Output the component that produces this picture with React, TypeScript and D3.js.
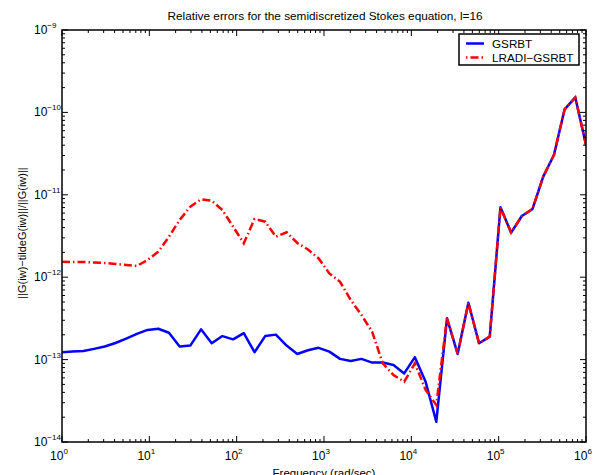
import React from "react";
import * as d3 from "d3";

const title = "Relative errors for the semidiscretized Stokes equation, l=16";
const xLabel = "Frequency (rad/sec)";
const yLabel = "||G(iw)\u2212tildeG(iw)||/||G(iw)||";
const seriesNames = ["GSRBT", "LRADI\u2212GSRBT"];
const xDecades = [0, 1, 2, 3, 4, 5, 6];
const yDecades = [-9, -10, -11, -12, -13, -14];

// 50 log-spaced frequencies from 10^0 to 10^6
const freqExponents = d3.range(50).map((i) => (6 * i) / 49);

const gsrbt = [
  1.23e-13, 1.25e-13, 1.27e-13, 1.35e-13, 1.44e-13, 1.59e-13, 1.8e-13, 2.05e-13, 2.29e-13, 2.37e-13,
  2.12e-13, 1.44e-13, 1.48e-13, 2.33e-13, 1.58e-13, 1.93e-13, 1.76e-13, 2.1e-13, 1.23e-13, 1.93e-13,
  2.01e-13, 1.48e-13, 1.17e-13, 1.3e-13, 1.39e-13, 1.25e-13, 1.02e-13, 9.6e-14, 1.02e-13, 9.2e-14,
  9.2e-14, 8.6e-14, 6.8e-14, 1.07e-13, 5.4e-14, 1.76e-14, 3.17e-13, 1.17e-13, 4.9e-13, 1.58e-13,
  1.9e-13, 7.05e-12, 3.47e-12, 5.53e-12, 6.73e-12, 1.66e-11, 3.04e-11, 1.09e-10, 1.52e-10, 4.02e-11,
];

const lradi = [
  1.54e-12, 1.53e-12, 1.53e-12, 1.51e-12, 1.49e-12, 1.45e-12, 1.41e-12, 1.37e-12, 1.62e-12, 2.04e-12,
  3.1e-12, 4.94e-12, 7.18e-12, 8.83e-12, 8.48e-12, 6.54e-12, 4.1e-12, 2.58e-12, 5.08e-12, 4.72e-12,
  3.1e-12, 3.51e-12, 2.6e-12, 2.17e-12, 1.69e-12, 1.11e-12, 8.8e-13, 5.28e-13, 3.48e-13, 2.18e-13,
  9.0e-14, 6.5e-14, 5.4e-14, 9.0e-14, 4.3e-14, 2.81e-14, 3.17e-13, 1.17e-13, 4.9e-13, 1.58e-13,
  1.9e-13, 7.05e-12, 3.47e-12, 5.53e-12, 6.73e-12, 1.66e-11, 3.04e-11, 1.09e-10, 1.52e-10, 4.02e-11,
];

const W = 597;
const H = 475;
const m = { left: 62, right: 586, top: 30, bottom: 442 };
const font = "'Liberation Sans', Arial, Helvetica, sans-serif";

export default function App() {
  const x = d3.scaleLog().domain([1, 1e6]).range([m.left, m.right]);
  const y = d3.scaleLog().domain([1e-14, 1e-9]).range([m.bottom, m.top]);
  const freqs = freqExponents.map((e) => Math.pow(10, e));
  const line = d3
    .line<number>()
    .x((_, i) => x(freqs[i]))
    .y((d) => y(d));

  const xMinor: number[] = [];
  for (let d = 0; d < 6; d++) for (let k = 2; k <= 9; k++) xMinor.push(k * Math.pow(10, d));
  const yMinor: number[] = [];
  for (let d = -14; d < -9; d++) for (let k = 2; k <= 9; k++) yMinor.push(k * Math.pow(10, d));

  const majLen = 6;
  const minLen = 3;

  return (
    <svg width={W} height={H} style={{ position: "absolute", left: 0, top: 0 }} fontFamily={font}>
      <rect x={0} y={0} width={W} height={H} fill="#fff" />
      <text x={(m.left + m.right) / 2 + 1} y={20} fontSize={11.8} textAnchor="middle">
        {title}
      </text>
      <defs>
        <clipPath id="plotclip">
          <rect x={m.left} y={m.top} width={m.right - m.left} height={m.bottom - m.top} />
        </clipPath>
      </defs>
      <g clipPath="url(#plotclip)">
        <path d={line(gsrbt) || ""} fill="none" stroke="#0000ff" strokeWidth={2.5} strokeLinejoin="round" />
        <path
          d={line(lradi) || ""}
          fill="none"
          stroke="#ff0000"
          strokeWidth={2.5}
          strokeDasharray="8 3 1.5 3"
        />
      </g>
      {/* ticks */}
      <g stroke="#000" strokeWidth={1}>
        {xDecades.map((d) => {
          const xx = x(Math.pow(10, d));
          return (
            <g key={"xt" + d}>
              <line x1={xx} x2={xx} y1={m.bottom} y2={m.bottom - majLen} />
              <line x1={xx} x2={xx} y1={m.top} y2={m.top + majLen} />
            </g>
          );
        })}
        {xMinor.map((v, i) => {
          const xx = x(v);
          return (
            <g key={"xm" + i}>
              <line x1={xx} x2={xx} y1={m.bottom} y2={m.bottom - minLen} />
              <line x1={xx} x2={xx} y1={m.top} y2={m.top + minLen} />
            </g>
          );
        })}
        {yDecades.map((d) => {
          const yy = y(Math.pow(10, d));
          return (
            <g key={"yt" + d}>
              <line x1={m.left} x2={m.left + majLen} y1={yy} y2={yy} />
              <line x1={m.right} x2={m.right - majLen} y1={yy} y2={yy} />
            </g>
          );
        })}
        {yMinor.map((v, i) => {
          const yy = y(v);
          return (
            <g key={"ym" + i}>
              <line x1={m.left} x2={m.left + minLen} y1={yy} y2={yy} />
              <line x1={m.right} x2={m.right - minLen} y1={yy} y2={yy} />
            </g>
          );
        })}
      </g>
      <rect
        x={m.left}
        y={m.top}
        width={m.right - m.left}
        height={m.bottom - m.top}
        fill="none"
        stroke="#000"
        strokeWidth={1.5}
      />
      {/* x tick labels */}
      {xDecades.map((d) => (
        <text key={"xl" + d} x={x(Math.pow(10, d)) - 3} y={m.bottom + 18} fontSize={12} textAnchor="middle">
          10
          <tspan dy={-6} fontSize={8}>
            {d}
          </tspan>
        </text>
      ))}
      {/* y tick labels */}
      {yDecades.map((d) => (
        <text key={"yl" + d} x={m.left - 28} y={y(Math.pow(10, d)) + 4} fontSize={12} textAnchor="start">
          10
          <tspan dy={-6} fontSize={8}>
            {"\u2212" + Math.abs(d)}
          </tspan>
        </text>
      ))}
      <text x={(m.left + m.right) / 2} y={477} fontSize={11.5} textAnchor="middle">
        {xLabel}
      </text>
      <text
        transform={`translate(26, ${(m.top + m.bottom) / 2 - 3}) rotate(-90)`}
        fontSize={11}
        textAnchor="middle"
      >
        {yLabel}
      </text>
      {/* legend */}
      <g>
        <rect x={459} y={34} width={120} height={31} fill="#fff" stroke="#000" strokeWidth={1.5} />
        <line x1={466} x2={484} y1={43.5} y2={43.5} stroke="#0000ff" strokeWidth={2.5} />
        <line x1={466} x2={484} y1={57.5} y2={57.5} stroke="#ff0000" strokeWidth={2.5} strokeDasharray="1.5 3 8 3" />
        <text x={492} y={47.5} fontSize={11.7}>
          {seriesNames[0]}
        </text>
        <text x={492} y={61.5} fontSize={11.7}>
          {seriesNames[1]}
        </text>
      </g>
    </svg>
  );
}
